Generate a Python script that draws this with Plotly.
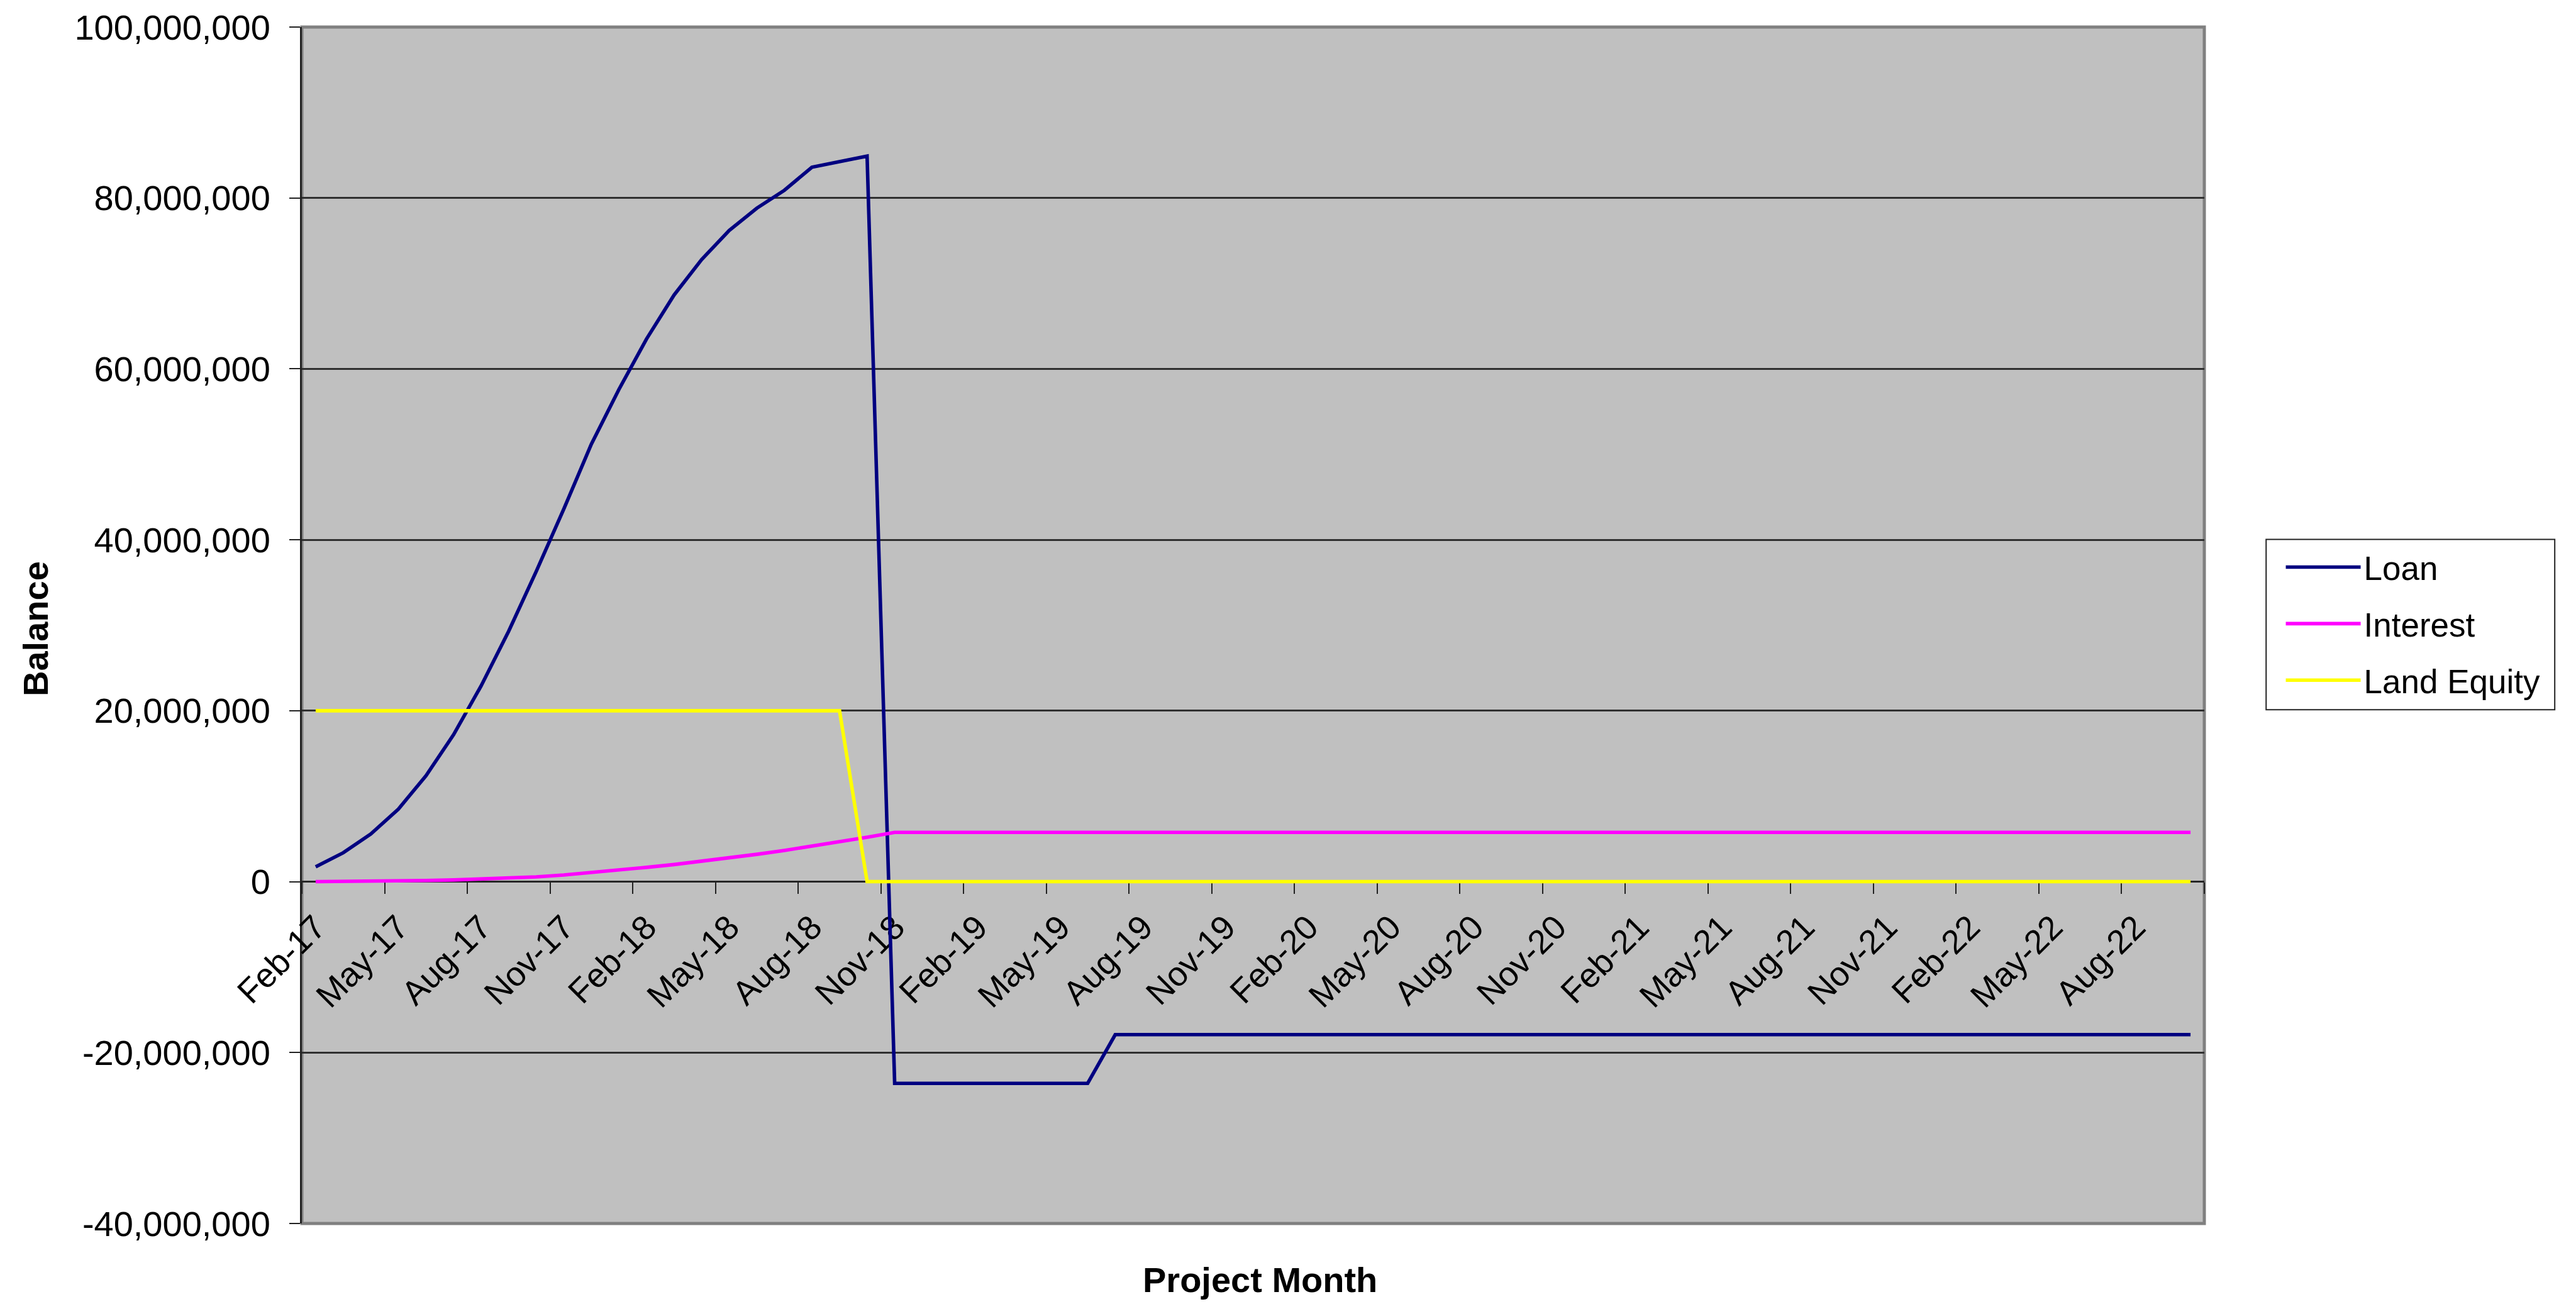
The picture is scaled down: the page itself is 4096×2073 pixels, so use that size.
import plotly.graph_objects as go

# ---------------- data ----------------
months = [
    "Feb-17", "Mar-17", "Apr-17", "May-17", "Jun-17", "Jul-17", "Aug-17", "Sep-17", "Oct-17", "Nov-17", "Dec-17",
    "Jan-18", "Feb-18", "Mar-18", "Apr-18", "May-18", "Jun-18", "Jul-18", "Aug-18", "Sep-18", "Oct-18", "Nov-18", "Dec-18",
    "Jan-19", "Feb-19", "Mar-19", "Apr-19", "May-19", "Jun-19", "Jul-19", "Aug-19", "Sep-19", "Oct-19", "Nov-19", "Dec-19",
    "Jan-20", "Feb-20", "Mar-20", "Apr-20", "May-20", "Jun-20", "Jul-20", "Aug-20", "Sep-20", "Oct-20", "Nov-20", "Dec-20",
    "Jan-21", "Feb-21", "Mar-21", "Apr-21", "May-21", "Jun-21", "Jul-21", "Aug-21", "Sep-21", "Oct-21", "Nov-21", "Dec-21",
    "Jan-22", "Feb-22", "Mar-22", "Apr-22", "May-22", "Jun-22", "Jul-22", "Aug-22", "Sep-22", "Oct-22",
]

loan = [
    1740000, 3380000, 5580000, 8490000, 12390000, 17190000, 22900000, 29300000, 36300000, 43600000,
    51200000, 57600000, 63500000, 68650000, 72800000, 76200000, 78800000, 80900000, 83600000, 84200000,
    84900000,
    -23600000, -23600000, -23600000, -23600000, -23600000, -23600000, -23600000, -23600000,
    -17900000, -17900000, -17900000, -17900000, -17900000, -17900000, -17900000, -17900000, -17900000, -17900000,
    -17900000, -17900000, -17900000, -17900000, -17900000, -17900000, -17900000, -17900000, -17900000, -17900000,
    -17900000, -17900000, -17900000, -17900000, -17900000, -17900000, -17900000, -17900000, -17900000, -17900000,
    -17900000, -17900000, -17900000, -17900000, -17900000, -17900000, -17900000, -17900000, -17900000, -17900000,
]

interest = [
    0, 10000, 30000, 70000, 130000, 200000, 300000, 420000, 560000, 780000,
    1050000, 1350000, 1670000, 2000000, 2380000, 2780000, 3200000, 3650000, 4150000, 4680000,
    5200000, 5760000, 5760000, 5760000, 5760000, 5760000, 5760000, 5760000, 5760000, 5760000,
    5760000, 5760000, 5760000, 5760000, 5760000, 5760000, 5760000, 5760000, 5760000, 5760000,
    5760000, 5760000, 5760000, 5760000, 5760000, 5760000, 5760000, 5760000, 5760000, 5760000,
    5760000, 5760000, 5760000, 5760000, 5760000, 5760000, 5760000, 5760000, 5760000, 5760000,
    5760000, 5760000, 5760000, 5760000, 5760000, 5760000, 5760000, 5760000, 5760000,
]

land_equity = [
    20000000, 20000000, 20000000, 20000000, 20000000, 20000000, 20000000, 20000000, 20000000, 20000000,
    20000000, 20000000, 20000000, 20000000, 20000000, 20000000, 20000000, 20000000, 20000000, 20000000,
    0, 0, 0, 0, 0, 0, 0, 0, 0, 0,
    0, 0, 0, 0, 0, 0, 0, 0, 0, 0,
    0, 0, 0, 0, 0, 0, 0, 0, 0, 0,
    0, 0, 0, 0, 0, 0, 0, 0, 0, 0,
    0, 0, 0, 0, 0, 0, 0, 0, 0,
]

series_names = ["Loan", "Interest", "Land Equity"]
series_colors = ["#000080", "#FF00FF", "#FFFF00"]

y_tick_vals = [-40000000, -20000000, 0, 20000000, 40000000, 60000000, 80000000, 100000000]
y_tick_text = ["-40,000,000", "-20,000,000", "0", "20,000,000", "40,000,000",
               "60,000,000", "80,000,000", "100,000,000"]

# ---------------- figure ----------------
W, H = 4096, 2073
ML, MR, MT, MB = 480, 591, 43, 128
FONT = "Liberation Sans, Arial, sans-serif"

y_min, y_max = y_tick_vals[0], y_tick_vals[-1]

fig = go.Figure()
for name, vals, col in zip(series_names, [loan, interest, land_equity], series_colors):
    fig.add_trace(go.Scatter(
        x=months, y=vals, name=name, mode="lines",
        line=dict(color=col, width=5.6),
        legendgroup=name, hoverinfo="skip",
    ))

zero_pos = (0 - y_min) / (y_max - y_min)

fig.update_layout(
    width=W, height=H, autosize=False,
    margin=dict(l=ML, r=MR, t=MT, b=MB, pad=0),
    paper_bgcolor="white", plot_bgcolor="#C0C0C0",
    font=dict(family=FONT, color="black", size=55),
    showlegend=True,
    legend=dict(
        x=1.04118, y=0.5702, xanchor="left", yanchor="top",
        bgcolor="rgba(255,255,255,0)", borderwidth=0,
        font=dict(family=FONT, size=53, color="black"),
        itemwidth=119, tracegroupgap=18,
    ),
    xaxis=dict(
        type="category", range=[-0.5, len(months) - 0.5],
        anchor="free", position=zero_pos,
        showline=True, linecolor="#222222", linewidth=2.3,
        ticks="outside", ticklen=18, tickwidth=2, tickcolor="#222222",
        tickson="boundaries", tickmode="linear", tick0=0, dtick=3,
        tickangle=-45, tickfont=dict(size=54, family=FONT, color="black"),
        ticklabelstandoff=18,
        showgrid=False, zeroline=False, layer="below traces",
    ),
    yaxis=dict(
        range=[y_min, y_max], tickmode="array", tickvals=y_tick_vals, ticktext=y_tick_text,
        showgrid=True, gridcolor="#303030", gridwidth=2.5,
        showline=True, linecolor="#222222", linewidth=3,
        ticks="outside", ticklen=17, tickwidth=2, tickcolor="#222222",
        tickfont=dict(size=56, family=FONT, color="black"),
        ticklabelstandoff=19,
        zeroline=False, layer="below traces",
    ),
    shapes=[
        dict(type="rect", xref="x domain", yref="y domain", x0=0, x1=1, y0=0, y1=1,
             line=dict(color="#808080", width=5), layer="below"),
        dict(type="rect", xref="paper", yref="paper", x0=1.03249, x1=1.18420, y0=0.42942, y1=0.57174,
             line=dict(color="#222222", width=2), fillcolor="white", layer="below"),
    ],
    annotations=[
        dict(text="<b>Balance</b>", xref="paper", yref="paper", x=-0.1398, y=0.4969,
             xanchor="center", yanchor="middle", textangle=-90, showarrow=False,
             font=dict(family=FONT, size=56, color="black")),
        dict(text="<b>Project Month</b>", xref="paper", yref="paper", x=0.5038, y=-0.0468,
             xanchor="center", yanchor="middle", showarrow=False,
             font=dict(family=FONT, size=56, color="black")),
    ],
)

fig.write_html("out.html", config={"displayModeBar": False})
